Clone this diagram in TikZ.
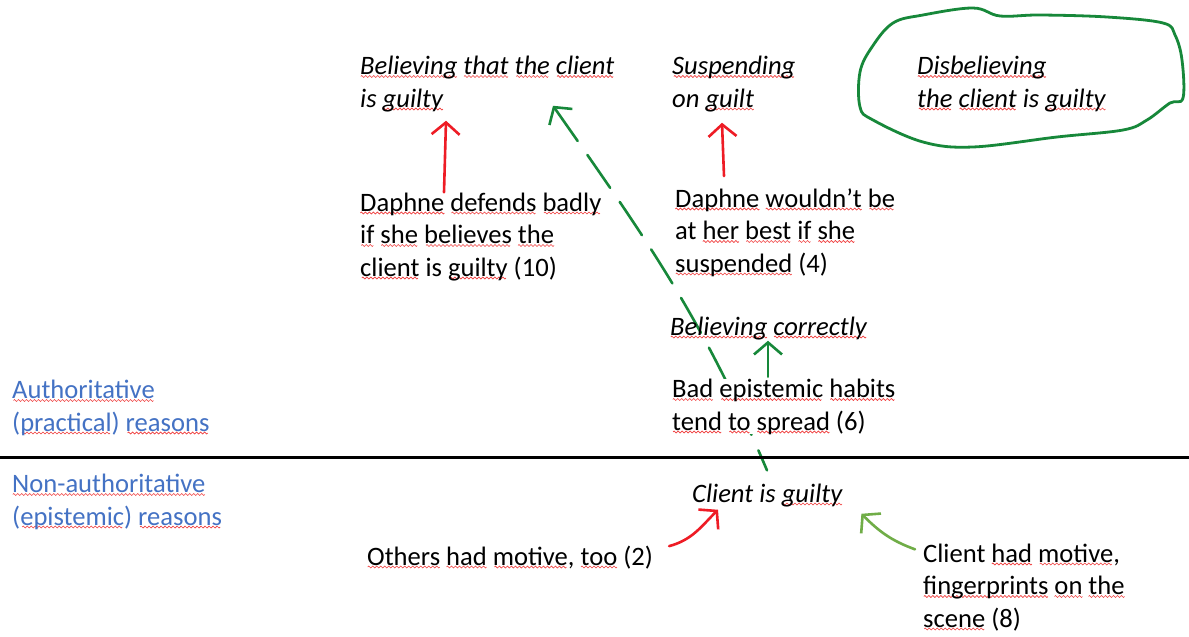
\documentclass[tikz,border=0pt]{standalone}
\usepackage{fontspec}
\setmainfont{Carlito}
\usetikzlibrary{arrows.meta}
\definecolor{penred}{HTML}{EE1C25}
\definecolor{pengreen}{HTML}{17883A}
\definecolor{lightgreen}{HTML}{70AD47}
\definecolor{linkblue}{HTML}{4472C4}
\definecolor{squig}{HTML}{F03A3A}
% spell-check squiggle under a word
\newsavebox\wavebox
\newsavebox\sqword
\newcommand\sq[1]{\sbox\sqword{#1}\leavevmode
  \rlap{\lower3pt\hbox to\wd\sqword{\cleaders\copy\wavebox\hfil}}\usebox\sqword}
\pgfdeclarelayer{back}
\pgfsetlayers{back,main}

\begin{document}
\sbox\wavebox{\pgfpicture
  \pgfsetlinewidth{0.6pt}\pgfsetstrokecolor{squig}
  \pgfpathmoveto{\pgfpoint{0pt}{0pt}}
  \pgfpathsine{\pgfpoint{1pt}{1pt}}\pgfpathcosine{\pgfpoint{1pt}{-1pt}}
  \pgfpathsine{\pgfpoint{1pt}{-1pt}}\pgfpathcosine{\pgfpoint{1pt}{1pt}}
  \pgfusepath{stroke}
  \pgfresetboundingbox
  \pgfpathrectangle{\pgfpoint{0pt}{-1pt}}{\pgfpoint{4pt}{2pt}}
  \pgfusepath{use as bounding box}
\endpgfpicture}%
\begin{tikzpicture}[x=1pt, y=1pt,
  every node/.style={text=black},
  txt/.style={font=\fontsize{26.6}{32.5}\selectfont, align=left,
    inner sep=0pt, anchor=base west},
  ittxt/.style={txt, font=\fontsize{26.6}{32.5}\selectfont\itshape},
  bluetxt/.style={txt, text=linkblue},
  barb/.style={-{Straight Barb[length=12pt, width=28pt]}},
  redpen/.style={barb, penred, line width=2.6pt, line cap=round},
  greenpen/.style={barb, pengreen, line width=2.6pt, line cap=round},
  lightpen/.style={barb, lightgreen, line width=2.6pt, line cap=round},
]

% Page
\begin{pgfonlayer}{back}
\fill[white] (0,0) rectangle (1189,-637);
\end{pgfonlayer}
\useasboundingbox (0,0) rectangle (1189,-637);

% Attitudes -- top row (anchored at last baseline)
\node[ittxt] (btg) at (360,-107)
  {\sq{Believing} \sq{that} \sq{the} \sq{client}\\is \sq{guilty}};
\node[ittxt] (susp) at (672,-107)
  {\sq{Suspending}\\on \sq{guilt}};
\node[ittxt] (disb) at (917,-107)
  {\sq{Disbelieving}\\\sq{the} \sq{client} is \sq{guilty}};

% Practical reasons
\node[txt] (ddb) at (360,-276)
  {\sq{Daphne} \sq{defends} \sq{badly}\\\sq{if} \sq{she} \sq{believes} \sq{the}\\\sq{client} is \sq{guilty} (10)};
\node[txt] (dwb) at (675,-272)
  {\sq{Daphne} \sq{wouldn’t} \sq{be}\\at \sq{her} \sq{best} \sq{if} \sq{she}\\\sq{suspended} (4)};
\node[ittxt] (bcor) at (670,-335)
  {\sq{Believing} \sq{correctly}};
\node[txt, fill=white] (bad) at (672,-430)
  {\sq{Bad} \sq{epistemic} \sq{habits}\\\sq{tend} \sq{to} \sq{spread} (6)};

% Side labels
\node[bluetxt] (auth) at (12,-431)
  {\sq{Authoritative}\\(\sq{practical}) \sq{reasons}};
\node[bluetxt] (nonauth) at (12,-525)
  {\sq{Non-authoritative}\\(\sq{epistemic}) \sq{reasons}};

% Divider
\draw[line width=3pt] (0,-457) -- (1189,-457);

% Epistemic reasons
\node[ittxt] (cg) at (692,-502) {Client is \sq{guilty}};
\node[txt] (oth) at (367,-565) {\sq{Others} \sq{had} \sq{motive}, \sq{too} (2)};
\node[txt] (chm) at (923,-627)
  {Client \sq{had} \sq{motive},\\\sq{fingerprints} \sq{on} \sq{the}\\\sq{scene} (8)};

% Circled option
\draw[pengreen, line width=2.8pt] plot[smooth cycle, tension=0.6] coordinates {
  (860,-72) (872,-47) (893,-23) (923,-15) (973,-8) (1000,-16) (1040,-15)
  (1107,-17) (1163,-23) (1175,-35) (1182,-60) (1183,-98) (1170,-103)
  (1147,-120) (1123,-130) (1057,-137) (973,-147) (923,-142) (873,-120)
  (860,-107)};

% Arrows
\draw[redpen] ([xshift=84pt]ddb.north west) -- ([xshift=86pt,yshift=-9pt]btg.south west);
\draw[redpen] ([xshift=49pt,yshift=12pt]dwb.north west) -- ([xshift=50pt,yshift=-11pt]susp.south west);
\draw[greenpen] ([xshift=96pt,yshift=2pt]bad.north west) -- ([xshift=98pt,yshift=-1pt]bcor.south west);
\begin{pgfonlayer}{back}
\draw[greenpen, {Straight Barb[length=12pt, width=28pt]}-, dash pattern=on 40pt off 17pt]
  ([xshift=193pt,yshift=6pt]btg.south west) to[out=-55, in=113]
  ([xshift=75pt,yshift=13pt]cg.north west);
\end{pgfonlayer}
\draw[redpen] ([xshift=16pt,yshift=11pt]oth.east) to[out=15, in=225]
  ([xshift=26pt,yshift=-3pt]cg.south west);
\draw[lightpen] ([xshift=-8pt,yshift=-6pt]chm.north west) to[out=160, in=-45]
  ([xshift=19pt,yshift=-7pt]cg.south east);

\end{tikzpicture}
\end{document}
